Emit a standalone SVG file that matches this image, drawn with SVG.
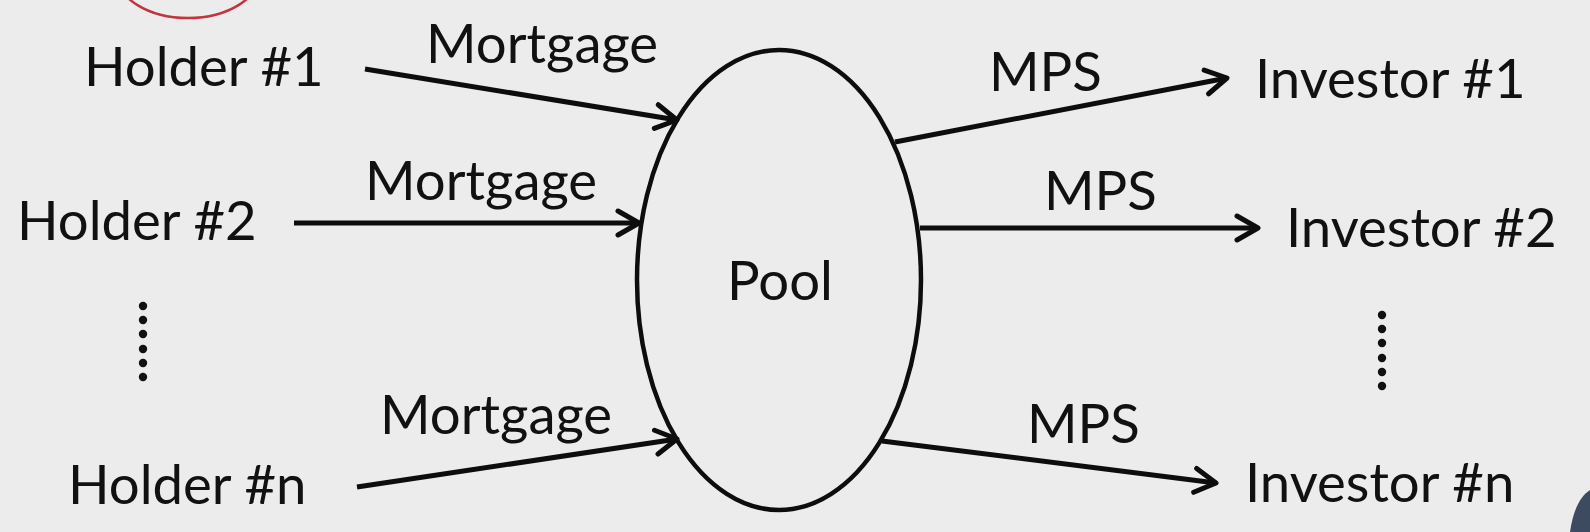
<svg xmlns="http://www.w3.org/2000/svg" width="1590" height="532" viewBox="0 0 1590 532">
<defs>
<style>
.lbl{font-family:"Lato","Open Sans","Liberation Sans",sans-serif;font-size:54.5px;fill:#111}
.ln{stroke:#0d0d0d;stroke-width:5;fill:none;marker-end:url(#ah)}
.dot{fill:#111}
</style>
<marker id="ah" viewBox="0 0 28 30" refX="24" refY="15" markerWidth="28" markerHeight="30" markerUnits="userSpaceOnUse" orient="auto">
<path d="M3,3 L24,15 L3,27" fill="none" stroke="#0d0d0d" stroke-width="5" stroke-linecap="round" stroke-linejoin="round"/>
</marker>
</defs>
<rect width="1590" height="532" fill="#ececec"/>
<ellipse cx="188" cy="-27" rx="72" ry="45" fill="none" stroke="#c2343f" stroke-width="2.5"/>
<path d="M1570,532 C1573,512 1579,497 1590,490 L1590,532 Z" fill="#3c4b5f"/>
<g id="connectors">
<line class="ln" x1="365" y1="69" x2="677" y2="120"/>
<line class="ln" x1="294" y1="223" x2="639" y2="223"/>
<line class="ln" x1="357" y1="487" x2="677" y2="439"/>
<line class="ln" x1="895" y1="142" x2="1227" y2="78"/>
<line class="ln" x1="920" y1="228" x2="1258" y2="228"/>
<line class="ln" x1="882" y1="441" x2="1216" y2="483"/>
</g>
<g id="labels">
<text class="lbl" x="426" y="63">Mortgage</text>
<text class="lbl" x="365" y="200">Mortgage</text>
<text class="lbl" x="380" y="434">Mortgage</text>
<text class="lbl" x="989" y="91">MPS</text>
<text class="lbl" x="1044" y="210">MPS</text>
<text class="lbl" x="1027" y="443">MPS</text>
</g>
<g id="pool">
<ellipse cx="779" cy="280" rx="142" ry="230" fill="none" stroke="#0d0d0d" stroke-width="4.5"/>
<text class="lbl" x="727" y="300">Pool</text>
</g>
<g id="holder1"><text class="lbl" x="84" y="86">Holder #1</text></g>
<g id="holder2"><text class="lbl" x="17" y="240">Holder #2</text></g>
<g id="holderDots">
<circle class="dot" cx="143" cy="306" r="4.2"/><circle class="dot" cx="143" cy="320" r="4.2"/><circle class="dot" cx="143" cy="334" r="4.2"/><circle class="dot" cx="143" cy="349" r="4.2"/><circle class="dot" cx="143" cy="363" r="4.2"/><circle class="dot" cx="143" cy="377" r="4.2"/>
</g>
<g id="holderN"><text class="lbl" x="68" y="504">Holder #n</text></g>
<g id="investor1"><text class="lbl" x="1255" y="98">Investor #1</text></g>
<g id="investor2"><text class="lbl" x="1286" y="247">Investor #2</text></g>
<g id="investorDots">
<circle class="dot" cx="1382" cy="315" r="4.2"/><circle class="dot" cx="1382" cy="329" r="4.2"/><circle class="dot" cx="1382" cy="343" r="4.2"/><circle class="dot" cx="1382" cy="358" r="4.2"/><circle class="dot" cx="1382" cy="372" r="4.2"/><circle class="dot" cx="1382" cy="386" r="4.2"/>
</g>
<g id="investorN"><text class="lbl" x="1245" y="502">Investor #n</text></g>
</svg>
